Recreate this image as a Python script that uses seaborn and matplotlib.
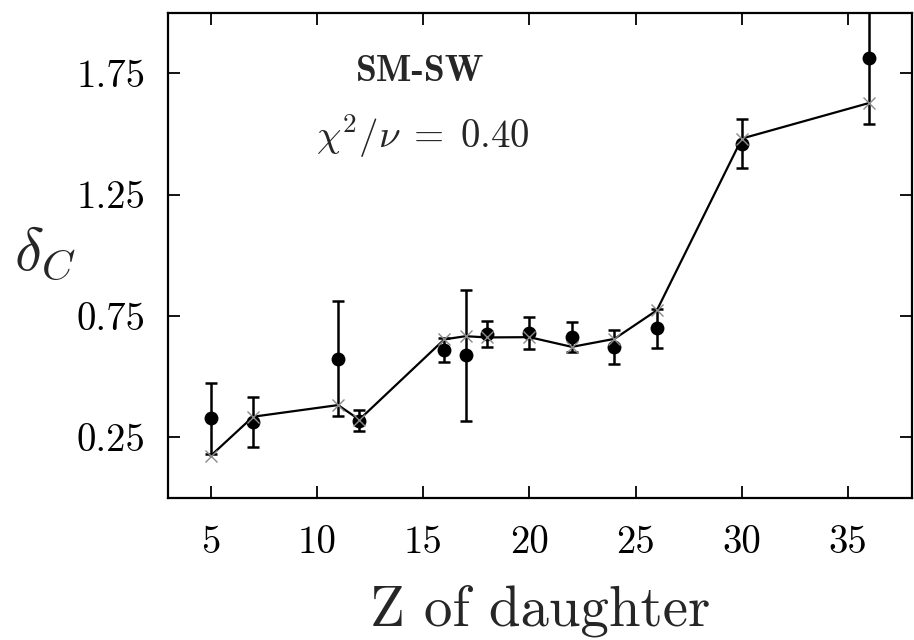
import matplotlib
matplotlib.use("Agg")
import matplotlib.pyplot as plt
import seaborn as sns
import pandas as pd

# Charge of the daughter nucleus and measured delta_C with uncertainties
z_daughter = [5, 7, 11, 12, 16, 17, 18, 20, 22, 24, 26, 30, 36]
delta_c = [0.327, 0.313, 0.574, 0.317, 0.609, 0.588, 0.674, 0.679, 0.663, 0.620, 0.698, 1.460, 1.813]
delta_err = [0.145, 0.104, 0.236, 0.043, 0.051, 0.270, 0.053, 0.066, 0.062, 0.070, 0.081, 0.100, 0.273]
# SM-SW model values
model_c = [0.172, 0.334, 0.382, 0.322, 0.653, 0.666, 0.661, 0.662, 0.622, 0.655, 0.773, 1.481, 1.628]

x_ticks = [5, 10, 15, 20, 25, 30, 35]
x_tick_labels = ["5", "10", "15", "20", "25", "30", "35"]
y_ticks = [0.25, 0.75, 1.25, 1.75]
y_tick_labels = ["0.25", "0.75", "1.25", "1.75"]

df = pd.DataFrame({"Z": z_daughter, "delta": delta_c, "err": delta_err, "model": model_c})

sns.set_theme(style="ticks")
plt.rcParams["font.family"] = ["cmr10", "DejaVu Serif"]
plt.rcParams["mathtext.fontset"] = "cm"
plt.rcParams["axes.formatter.use_mathtext"] = True

fig = plt.figure(figsize=(9.14, 6.4), dpi=100)
ax = fig.add_axes([0.1838, 0.2223, 0.8140, 0.7579])

# measured points with error bars
ax.errorbar(df["Z"], df["delta"], yerr=df["err"], fmt="none", ecolor="black",
            elinewidth=1.8, capsize=4.2, capthick=1.8, zorder=2)
sns.scatterplot(data=df, x="Z", y="delta", ax=ax, color="black", s=100,
                edgecolor="black", linewidth=0, zorder=3)

# model curve
sns.lineplot(data=df, x="Z", y="model", ax=ax, color="black", linewidth=1.6,
             marker="x", markersize=8, markeredgecolor="#8a8a8a",
             markeredgewidth=1.0, zorder=4)

ax.set_xlim(3, 38)
ax.set_ylim(0, 2)
ax.set_xticks(x_ticks)
ax.set_xticklabels(x_tick_labels)
ax.set_yticks(y_ticks)
ax.set_yticklabels(y_tick_labels)

ax.tick_params(axis="both", which="both", direction="in", length=8.5, width=1.3,
               top=True, right=True, labelsize=28, colors="black")
ax.tick_params(axis="x", pad=20)
ax.tick_params(axis="y", pad=16)
for sp in ax.spines.values():
    sp.set_linewidth(1.6)
    sp.set_color("black")

ax.set_xlabel("Z of daughter", fontsize=41, labelpad=17)
ax.set_ylabel(r"$\delta_C$", fontsize=44, rotation=0, ha="center", va="center")
ax.yaxis.set_label_coords(-0.165, 0.504)

ax.text(0.339, 0.878, "SM-SW", transform=ax.transAxes, ha="center", va="center",
        fontsize=27, fontfamily="cmb10")
ax.text(0.342, 0.746, r"$\chi^2/\nu\;=\;0.40$", transform=ax.transAxes,
        ha="center", va="center", fontsize=28)

fig.savefig("out.png", dpi=100)
